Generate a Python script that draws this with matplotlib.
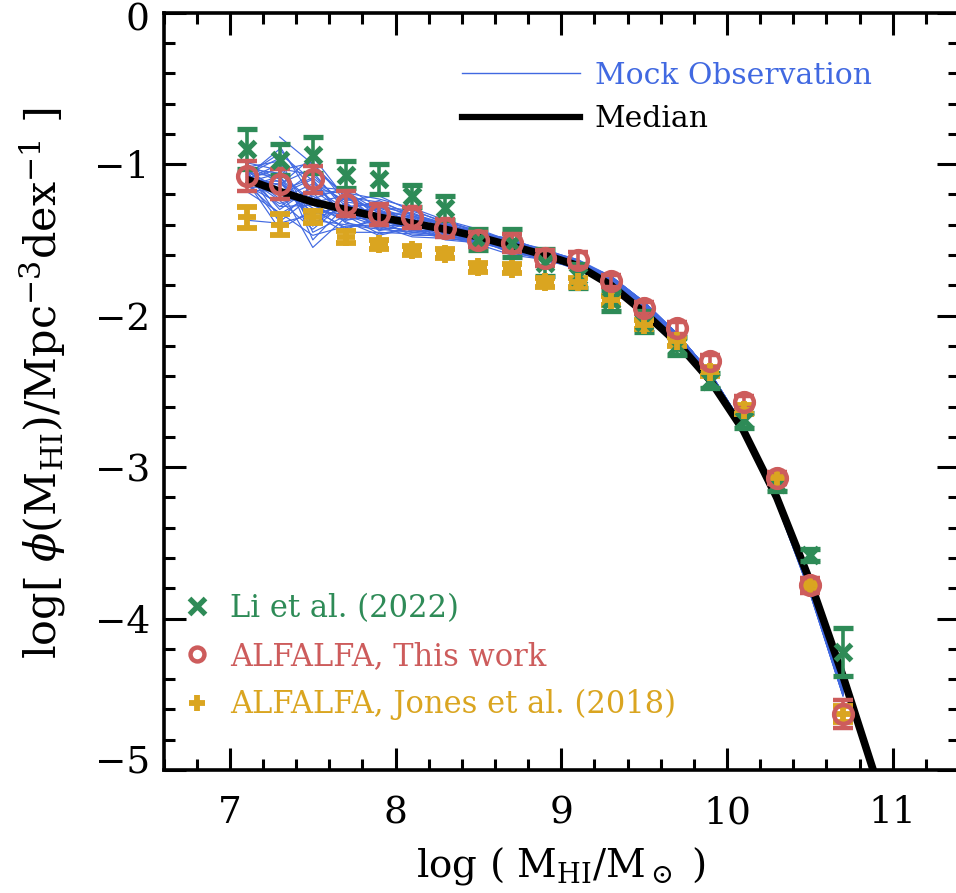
import numpy as np
import matplotlib
matplotlib.use("Agg")
import matplotlib.pyplot as plt
from matplotlib.ticker import MultipleLocator
from matplotlib.lines import Line2D
from matplotlib.transforms import ScaledTranslation

plt.rcParams['font.family'] = ['DejaVu Serif']
plt.rcParams['mathtext.fontset'] = 'dejavuserif'

# ---------------- data ----------------
logM = [7.1, 7.3, 7.5, 7.7, 7.9, 8.1, 8.3, 8.5, 8.7, 8.9, 9.1, 9.3, 9.5, 9.7, 9.9, 10.1, 10.3, 10.5, 10.7]

li2022 = [-0.90, -0.97, -0.94, -1.07, -1.10, -1.21, -1.29, -1.50, -1.52, -1.65, -1.74, -1.90, -2.04, -2.20, -2.43, -2.69, -3.11, -3.58, -4.22]
li2022_err = [0.13, 0.10, 0.12, 0.09, 0.10, 0.07, 0.08, 0.07, 0.09, 0.09, 0.08, 0.07, 0.07, 0.06, 0.05, 0.05, 0.05, 0.04, 0.16]

this_work = [-1.08, -1.13, -1.10, -1.26, -1.33, -1.35, -1.42, -1.50, -1.52, -1.62, -1.63, -1.77, -1.95, -2.08, -2.30, -2.57, -3.07, -3.78, -4.63]
this_work_err = [0.10, 0.10, 0.09, 0.08, 0.07, 0.07, 0.06, 0.05, 0.06, 0.05, 0.05, 0.04, 0.04, 0.04, 0.04, 0.04, 0.04, 0.05, 0.09]

jones2018 = [-1.35, -1.40, -1.35, -1.48, -1.53, -1.57, -1.59, -1.68, -1.69, -1.78, -1.78, -1.90, -2.06, -2.17, -2.37, -2.62, -3.07, -3.78, -4.63]
jones2018_err = [0.07, 0.07, 0.04, 0.04, 0.03, 0.03, 0.03, 0.03, 0.03, 0.03, 0.03, 0.03, 0.03, 0.03, 0.03, 0.03, 0.03, 0.03, 0.05]

median_x = [7.1, 7.3, 7.5, 7.7, 7.9, 8.1, 8.3, 8.5, 8.7, 8.9, 9.1, 9.3, 9.5, 9.7, 9.9, 10.1, 10.3, 10.5, 10.7, 10.9]
median_y = [-1.10, -1.18, -1.25, -1.30, -1.35, -1.39, -1.43, -1.48, -1.54, -1.60, -1.67, -1.80, -1.98, -2.18, -2.43, -2.76, -3.20, -3.75, -4.38, -5.06]

nan = np.nan
# mock observations: deviation of each mock curve from the median, per bin of logM
mock_dev = [
    [nan, 0.36, 0.25, 0.08, 0.10, 0.06, 0.03, 0.02, 0.04, 0.02, 0.03, 0.05, 0.06, 0.05, 0.04, 0.02, -0.01, -0.05, -0.09],
    [0.05, 0.02, -0.30, -0.05, -0.02, -0.04, -0.03, -0.02, 0.00, 0.01, 0.02, 0.04, 0.05, 0.06, 0.05, 0.03, 0.00, -0.04, -0.07],
    [-0.03, -0.15, 0.05, 0.12, 0.04, 0.02, 0.05, 0.03, 0.02, 0.03, 0.04, 0.03, 0.04, 0.04, 0.03, 0.01, -0.02, -0.06, -0.11],
    [0.10, 0.08, -0.12, -0.10, -0.08, -0.06, -0.04, -0.03, -0.04, -0.02, 0.00, 0.02, 0.03, 0.03, 0.02, 0.00, -0.03, -0.07, -0.12],
    [0.00, 0.15, 0.18, 0.02, -0.03, 0.00, -0.02, 0.01, 0.02, 0.00, 0.01, 0.06, 0.07, 0.06, 0.05, 0.03, 0.01, -0.03, -0.06],
    [-0.27, -0.21, -0.08, -0.15, -0.10, -0.07, -0.05, -0.05, -0.06, -0.03, -0.02, 0.02, 0.03, 0.03, 0.02, 0.00, -0.03, -0.07, -0.12],
    [0.04, -0.05, 0.12, 0.06, 0.14, 0.08, 0.05, 0.04, 0.03, 0.04, 0.03, 0.05, 0.05, 0.04, 0.04, 0.02, -0.01, -0.05, -0.10],
    [0.08, 0.20, -0.20, -0.04, -0.06, -0.09, -0.06, -0.03, -0.02, -0.01, 0.01, 0.03, 0.04, 0.04, 0.03, 0.01, -0.02, -0.06, -0.11],
    [-0.02, 0.05, 0.22, 0.10, 0.03, 0.05, 0.02, 0.00, 0.01, 0.02, 0.02, 0.05, 0.06, 0.05, 0.04, 0.02, -0.01, -0.05, -0.09],
    [0.01, -0.10, -0.02, -0.08, -0.12, -0.03, -0.07, -0.04, -0.03, -0.04, -0.01, 0.02, 0.03, 0.02, 0.01, -0.01, -0.04, -0.08, -0.13],
    [nan, 0.30, 0.02, 0.15, 0.06, 0.09, 0.04, 0.02, 0.05, 0.01, 0.02, 0.04, 0.05, 0.06, 0.05, 0.03, 0.00, -0.04, -0.07],
    [0.06, -0.18, 0.08, -0.02, 0.00, -0.05, 0.00, -0.01, -0.02, 0.00, 0.00, 0.03, 0.04, 0.04, 0.03, 0.01, -0.02, -0.06, -0.11],
    [-0.05, 0.10, -0.15, 0.04, -0.05, 0.02, -0.03, 0.02, 0.00, 0.02, 0.03, 0.06, 0.07, 0.06, 0.05, 0.03, 0.01, -0.03, -0.06],
    [0.03, -0.02, 0.15, -0.06, 0.08, -0.02, 0.03, -0.02, 0.01, -0.01, 0.01, 0.02, 0.03, 0.03, 0.02, 0.00, -0.03, -0.07, -0.12],
    [0.07, 0.12, 0.00, 0.09, -0.04, 0.04, -0.01, 0.03, -0.01, 0.01, 0.02, 0.05, 0.05, 0.04, 0.04, 0.02, -0.01, -0.05, -0.10],
    [-0.01, -0.25, -0.05, -0.12, -0.02, -0.08, -0.04, -0.02, -0.05, -0.02, -0.03, 0.01, 0.02, 0.02, 0.01, -0.01, -0.04, -0.08, -0.13],
    [0.02, 0.04, 0.30, 0.07, 0.05, 0.01, 0.06, 0.03, 0.04, 0.03, 0.03, 0.05, 0.06, 0.05, 0.04, 0.02, -0.01, -0.05, -0.09],
    [0.09, 0.06, -0.10, 0.00, 0.11, 0.05, 0.01, 0.00, 0.02, 0.00, 0.01, 0.04, 0.05, 0.06, 0.05, 0.03, 0.00, -0.04, -0.07],
    [-0.04, -0.08, 0.06, -0.09, -0.07, -0.04, -0.06, -0.03, -0.01, -0.03, -0.01, 0.03, 0.04, 0.04, 0.03, 0.01, -0.02, -0.06, -0.11],
    [0.00, 0.18, -0.25, 0.03, 0.02, 0.07, 0.02, 0.04, 0.02, 0.02, 0.02, 0.06, 0.07, 0.06, 0.05, 0.03, 0.01, -0.03, -0.06],
    [0.05, -0.12, 0.10, 0.13, -0.01, -0.01, 0.04, 0.01, 0.03, 0.01, 0.02, 0.05, 0.05, 0.04, 0.04, 0.02, -0.01, -0.05, -0.10],
    [-0.07, 0.00, -0.06, -0.03, 0.06, 0.03, -0.02, 0.02, -0.03, 0.01, 0.00, 0.02, 0.03, 0.03, 0.02, 0.00, -0.03, -0.07, -0.12],
    [0.03, 0.25, 0.14, -0.07, 0.01, -0.02, 0.00, -0.02, 0.00, -0.01, 0.01, 0.04, 0.05, 0.06, 0.05, 0.03, 0.00, -0.04, -0.07],
    [0.01, -0.06, -0.18, 0.05, -0.09, 0.00, -0.05, -0.01, 0.01, 0.00, 0.01, 0.03, 0.04, 0.04, 0.03, 0.01, -0.02, -0.06, -0.11],
    [0.04, 0.10, -0.08, 0.02, 0.09, 0.04, 0.03, 0.03, 0.03, 0.02, 0.03, 0.06, 0.07, 0.06, 0.05, 0.03, 0.01, -0.03, -0.06],
    [-0.08, -0.14, -0.22, -0.11, -0.05, -0.06, -0.04, -0.04, -0.02, -0.02, -0.01, 0.01, 0.02, 0.02, 0.01, -0.01, -0.04, -0.08, -0.13],
    [0.02, 0.28, 0.08, 0.11, 0.12, 0.10, 0.06, 0.05, 0.03, 0.03, 0.02, 0.05, 0.06, 0.05, 0.04, 0.02, -0.01, -0.05, -0.09],
    [0.06, -0.03, 0.20, -0.01, -0.06, -0.01, -0.02, 0.00, 0.02, 0.01, 0.02, 0.04, 0.05, 0.06, 0.05, 0.03, 0.00, -0.04, -0.07],
    [-0.03, 0.07, -0.12, 0.08, 0.03, -0.06, 0.01, -0.03, -0.01, 0.00, 0.01, 0.03, 0.04, 0.04, 0.03, 0.01, -0.02, -0.06, -0.11],
    [0.00, -0.20, 0.04, -0.04, -0.11, -0.03, -0.05, -0.02, -0.04, -0.01, 0.00, 0.02, 0.03, 0.03, 0.02, 0.00, -0.03, -0.07, -0.12],
    [0.11, 0.14, 0.26, 0.05, 0.07, 0.06, 0.04, 0.02, 0.04, 0.03, 0.04, 0.06, 0.07, 0.06, 0.05, 0.03, 0.01, -0.03, -0.06],
    [-0.05, 0.02, -0.04, -0.13, 0.00, 0.02, -0.01, -0.01, 0.00, -0.02, 0.00, 0.02, 0.03, 0.03, 0.02, 0.00, -0.03, -0.07, -0.12],
    [0.03, 0.22, -0.16, 0.10, -0.03, 0.05, 0.03, 0.01, 0.01, 0.02, 0.02, 0.05, 0.05, 0.04, 0.04, 0.02, -0.01, -0.05, -0.10],
    [nan, -0.10, 0.10, 0.00, 0.05, -0.04, 0.02, -0.02, 0.02, 0.00, 0.01, 0.03, 0.04, 0.04, 0.03, 0.01, -0.02, -0.06, -0.11],
    [0.07, 0.00, 0.16, 0.04, -0.08, 0.03, -0.03, 0.01, -0.02, 0.01, 0.02, 0.05, 0.06, 0.05, 0.04, 0.02, -0.01, -0.05, -0.09],
    [-0.02, 0.12, -0.02, -0.07, 0.04, -0.05, 0.00, 0.02, 0.01, 0.01, 0.01, 0.04, 0.05, 0.06, 0.05, 0.03, 0.00, -0.04, -0.07],
]

C_MOCK = '#4169e1'
C_LI = '#2e8b57'
C_THIS = '#cd5c5c'
C_JONES = '#daa520'

# ---------------- figure ----------------
fig = plt.figure(figsize=(9.56, 8.93), dpi=100)
ax = fig.add_axes([0.1712, 0.1377, 0.8319, 0.8481])

med_bins = np.array(median_y[:len(logM)])
for dev in mock_dev:
    ax.plot(logM, med_bins + np.array(dev), color=C_MOCK, lw=0.85, zorder=2)
ax.plot(median_x, median_y, color='black', lw=5.5, zorder=3, solid_capstyle='butt')

eb_kw = dict(linestyle='none', elinewidth=2.6, capsize=7, capthick=3, zorder=5)
ax.errorbar(logM, li2022, yerr=li2022_err, color=C_LI, marker='x', ms=12, mew=3.8, **eb_kw)
ax.errorbar(logM, jones2018, yerr=jones2018_err, color=C_JONES, marker='+', ms=13, mew=4.2, **eb_kw)
ax.errorbar(logM, this_work, yerr=this_work_err, color=C_THIS, marker='o', ms=13.5, mew=3.2,
            mfc='none', **eb_kw)

ax.set_xlim(6.6, 11.4)
ax.set_ylim(-5, 0)

ax.xaxis.set_major_locator(MultipleLocator(1))
ax.xaxis.set_minor_locator(MultipleLocator(0.2))
ax.yaxis.set_major_locator(MultipleLocator(1))
ax.yaxis.set_minor_locator(MultipleLocator(0.2))
ax.tick_params(which='both', direction='in', top=True, right=True, width=2.2)
ax.tick_params(which='major', length=16)
ax.tick_params(which='minor', length=8)
ax.tick_params(axis='x', which='major', pad=18, labelsize=27)
ax.tick_params(axis='y', which='major', pad=10, labelsize=27)
for s in ax.spines.values():
    s.set_linewidth(2.6)

ax.set_xlabel(r'log ( M$_{\rm HI}$/M$_\odot$ )', fontsize=28, labelpad=10)
ax.set_ylabel(r'log[ $\phi$(M$_{\rm HI}$)/Mpc$^{-3}$dex$^{-1}$ ]', fontsize=31)
ax.yaxis.set_label_coords(-0.12, 0.511)

# legends
h1 = [Line2D([], [], color=C_MOCK, lw=1.0), Line2D([], [], color='black', lw=4.5)]
leg1 = ax.legend(h1, ['Mock Observation', 'Median'], loc='upper left',
                 bbox_to_anchor=(0.375, 0.935), frameon=False, fontsize=21.5,
                 handlelength=3.95, handletextpad=0.5, labelspacing=0.52,
                 borderpad=0, borderaxespad=0, labelcolor=[C_MOCK, 'black'])
ax.add_artist(leg1)

h2 = [Line2D([], [], color=C_LI, marker='x', ls='none', ms=11, mew=3.8),
      Line2D([], [], color=C_THIS, marker='o', ls='none', ms=10, mew=3.2, mfc='none'),
      Line2D([], [], color=C_JONES, marker='+', ls='none', ms=11, mew=4.2)]
ax.legend(h2, ['Li et al. (2022)', 'ALFALFA, This work', 'ALFALFA, Jones et al. (2018)'],
          loc='upper left', bbox_to_anchor=(0.0226, 0.234), frameon=False, fontsize=22,
          handlelength=1.0, handletextpad=0.58, labelspacing=0.56,
          borderpad=0, borderaxespad=0, labelcolor=[C_LI, C_THIS, C_JONES])

# nudge the end labels of the y axis inward, as in the reference
fig.canvas.draw()
for t in ax.yaxis.get_major_ticks():
    loc = t.get_loc()
    if loc is None:
        continue
    if abs(loc + 5) < 1e-6:
        t.label1.set_transform(t.label1.get_transform() + ScaledTranslation(0, 0.12, fig.dpi_scale_trans))
    elif abs(loc) < 1e-6:
        t.label1.set_transform(t.label1.get_transform() + ScaledTranslation(0, -0.04, fig.dpi_scale_trans))

fig.savefig('out.png', dpi=100)
